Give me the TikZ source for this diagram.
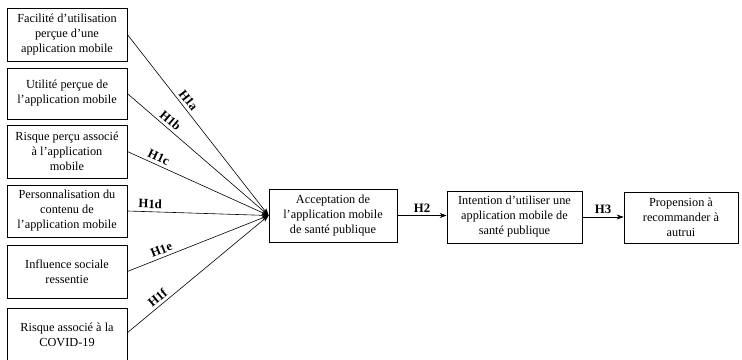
\documentclass[tikz,border=0pt]{standalone}
\usepackage{fontspec}
\setmainfont{Liberation Serif}
\usetikzlibrary{arrows.meta}
\begin{document}
\begin{tikzpicture}[x=1pt,y=-1pt,
  box/.style={draw, line width=0.7pt, align=center, inner sep=2pt,
    font=\fontsize{12.3}{15}\selectfont},
  lbl/.style={font=\fontsize{12.8}{14}\selectfont\bfseries, inner sep=1pt, above=2pt},
  conn/.style={line width=0.6pt, -{Stealth[length=7pt,width=5pt]}}]
\useasboundingbox (0,0) rectangle (742,359);
\begin{scope}
\clip (0,0) rectangle (742,359);
\node[box, minimum width=120pt, minimum height=53pt] (b1) at (67,34.5)
  {Facilité d’utilisation\\perçue d’une\\application mobile};
\node[box, minimum width=120pt, minimum height=51pt] (b2) at (67,93.5)
  {Utilité perçue de\\l’application mobile};
\node[box, minimum width=120pt, minimum height=53pt] (b3) at (67,151.5)
  {Risque perçu associé\\à l’application\\mobile};
\node[box, minimum width=120pt, minimum height=52pt] (b4) at (67,211)
  {Personnalisation du\\contenu de\\l’application mobile};
\node[box, minimum width=120pt, minimum height=53pt] (b5) at (67,271.5)
  {Influence sociale\\ressentie};
\node[box, minimum width=120pt, minimum height=54pt] (b6) at (67,335)
  {Risque associé à la\\COVID-19};
\end{scope}
\node[box, minimum width=128pt, minimum height=53pt] (acc) at (333,215.5)
  {Acceptation de\\l’application mobile\\de santé publique};
\node[box, minimum width=135pt, minimum height=52pt] (int) at (514.5,217)
  {Intention d’utiliser une\\application mobile de\\santé publique};
\node[box, minimum width=114pt, minimum height=51pt] (pro) at (681,217.5)
  {Propension à\\recommander à\\autrui};
\coordinate (c6) at (127,333);
\draw[conn] (b1.east) -- (acc.west) node[lbl, pos=0.39, sloped] {H1a};
\draw[conn] (b2.east) -- (acc.west) node[lbl, pos=0.27, sloped] {H1b};
\draw[conn] (b3.east) -- (acc.west) node[lbl, pos=0.2, sloped] {H1c};
\draw[conn] (b4.east) -- (acc.west) node[lbl, pos=0.16, sloped] {H1d};
\draw[conn] (b5.east) -- (acc.west) node[lbl, pos=0.26, sloped] {H1e};
\draw[conn] (c6) -- (acc.west) node[lbl, pos=0.25, sloped] {H1f};
\draw[conn] (acc.east) -- (acc.east -| int.west) node[lbl, midway] {H2};
\draw[conn] (int.east) -- (int.east -| pro.west) node[lbl, midway] {H3};
\end{tikzpicture}
\end{document}
